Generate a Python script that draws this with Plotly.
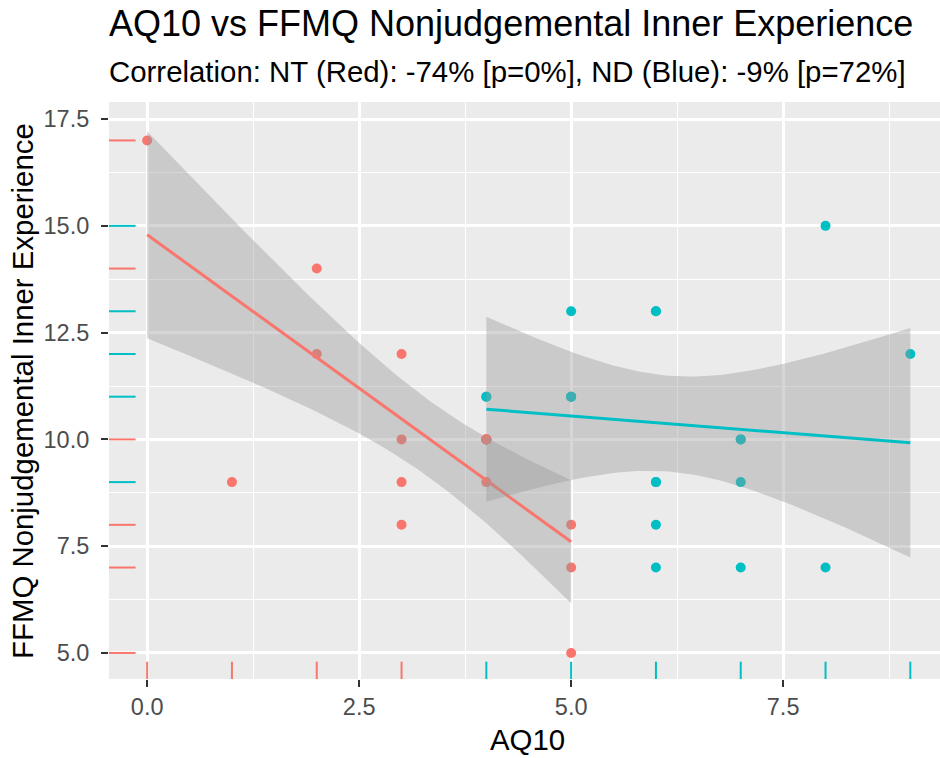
import math
import numpy as np
import plotly.graph_objects as go

# ---- data (one entry per participant, in data-row order) ----
group = ["ND", "ND", "ND", "ND", "ND", "ND",
         "NT", "NT", "NT", "NT", "NT", "NT", "NT", "NT", "NT", "NT", "NT", "NT",
         "NT", "NT", "NT", "NT", "NT", "NT",
         "ND", "ND", "ND", "ND", "ND", "ND", "ND", "ND", "ND", "ND", "ND", "ND", "ND"]
aq10 = [6, 6, 7, 8, 7, 7,
        0, 1, 2, 2, 3, 3, 3, 3, 4, 4, 4, 4, 4, 4, 4, 5, 5, 5,
        4, 4, 5, 5, 5, 5, 6, 6, 6, 6, 7, 8, 9]
ffmq = [8, 7, 7, 7, 10, 10,
        17, 9, 14, 12, 12, 10, 9, 8, 10, 10, 10, 10, 10, 10, 9, 8, 7, 5,
        11, 11, 13, 11, 11, 11, 13, 13, 9, 9, 9, 15, 12]
groups = ["NT", "ND"]
colors = {"NT": "#F8766D", "ND": "#00BFC4"}

title_text = "AQ10 vs FFMQ Nonjudgemental Inner Experience"
subtitle_text = "Correlation: NT (Red): -74% [p=0%], ND (Blue): -9% [p=72%]"
x_title = "AQ10"
y_title = "FFMQ Nonjudgemental Inner Experience"

FONT = "Liberation Sans, Arial, sans-serif"


def t_ppf(p, df):
    c = math.exp(math.lgamma((df + 1) / 2) - math.lgamma(df / 2)) / math.sqrt(df * math.pi)

    def cdf(t):
        g = np.linspace(0.0, t, 20001)
        f = c * (1 + g ** 2 / df) ** (-(df + 1) / 2)
        return 0.5 + np.trapezoid(f, g)

    lo, hi = 0.0, 20.0
    for _ in range(80):
        mid = (lo + hi) / 2
        if cdf(mid) < p:
            lo = mid
        else:
            hi = mid
    return (lo + hi) / 2


def lm_band(x, y, npts=80, level=0.95):
    x = np.asarray(x, float)
    y = np.asarray(y, float)
    n = len(x)
    b, a = np.polyfit(x, y, 1)
    res = y - (a + b * x)
    s = math.sqrt(np.sum(res ** 2) / (n - 2))
    mx = x.mean()
    sxx = np.sum((x - mx) ** 2)
    xs = np.linspace(x.min(), x.max(), npts)
    fit = a + b * xs
    se = s * np.sqrt(1 / n + (xs - mx) ** 2 / sxx)
    tq = t_ppf(0.5 + level / 2, n - 2)
    return xs, fit, fit - tq * se, fit + tq * se


fig = go.Figure()

data = {}
for g in groups:
    gx = [aq10[i] for i in range(len(group)) if group[i] == g]
    gy = [ffmq[i] for i in range(len(group)) if group[i] == g]
    data[g] = (gx, gy)

# points
for g in groups:
    gx, gy = data[g]
    fig.add_trace(go.Scatter(x=gx, y=gy, mode="markers",
                             marker=dict(color=colors[g], size=10, line=dict(width=0)),
                             showlegend=False, hoverinfo="skip"))

# smooth: ribbon then line, per group
for g in groups:
    gx, gy = data[g]
    xs, fit, lo, hi = lm_band(gx, gy)
    fig.add_trace(go.Scatter(x=np.concatenate([xs, xs[::-1]]),
                             y=np.concatenate([hi, lo[::-1]]),
                             mode="lines", fill="toself",
                             fillcolor="rgba(153,153,153,0.4)",
                             line=dict(width=0), showlegend=False, hoverinfo="skip"))
    fig.add_trace(go.Scatter(x=xs, y=fit, mode="lines",
                             line=dict(color=colors[g], width=3),
                             showlegend=False, hoverinfo="skip"))

# rugs: rows are drawn in order, so the last row with a value is the visible one
rug_x = {}
rug_y = {}
for i in range(len(group)):
    rug_x[aq10[i]] = colors[group[i]]
    rug_y[ffmq[i]] = colors[group[i]]

shapes = []
for v, col in rug_x.items():
    shapes.append(dict(type="line", xref="x", yref="y domain",
                       x0=v, x1=v, y0=0, y1=0.03,
                       line=dict(color=col, width=2), layer="above"))
for v, col in rug_y.items():
    shapes.append(dict(type="line", xref="x domain", yref="y",
                       x0=0, x1=0.032, y0=v, y1=v,
                       line=dict(color=col, width=2), layer="above"))

axis_common = dict(
    showgrid=True, gridcolor="white", gridwidth=2.6,
    zeroline=False, showline=False,
    ticks="outside", ticklen=7, tickwidth=2, tickcolor="#333333",
    tickfont=dict(family=FONT, size=23.5, color="#4D4D4D"),
    tickformat=".1f", dtick=2.5, tick0=0,
    minor=dict(dtick=1.25, tick0=0, showgrid=True, gridcolor="white", gridwidth=1.3, ticks=""),
)

fig.update_layout(
    width=940, height=758,
    margin=dict(l=109, r=0, t=102, b=79),
    paper_bgcolor="white", plot_bgcolor="#EBEBEB",
    xaxis=dict(range=[-0.45, 9.35], automargin=False, **axis_common),
    yaxis=dict(range=[4.39, 17.9], automargin=False, ticklabelstandoff=7, **axis_common),
    shapes=shapes,
    annotations=[
        dict(text=title_text, xref="paper", yref="paper", x=-0.0024, y=1.1352,
             xanchor="left", yanchor="middle", showarrow=False,
             font=dict(family=FONT, size=36, color="black")),
        dict(text=subtitle_text, xref="paper", yref="paper", x=-0.0024, y=1.0529,
             xanchor="left", yanchor="middle", showarrow=False,
             font=dict(family=FONT, size=29.4, color="black")),
        dict(text=x_title, xref="paper", yref="paper", x=0.5036, y=-0.1057,
             xanchor="center", yanchor="middle", showarrow=False,
             font=dict(family=FONT, size=29.4, color="black")),
        dict(text=y_title, xref="paper", yref="paper", x=-0.1041, y=0.5,
             xanchor="center", yanchor="middle", showarrow=False, textangle=-90,
             font=dict(family=FONT, size=29.4, color="black")),
    ],
)

# remove the browser's default 8px page margin so the figure fills the window
fig.write_html("out.html", config={"displayModeBar": False},
               post_script="document.body.style.margin='0px';")
